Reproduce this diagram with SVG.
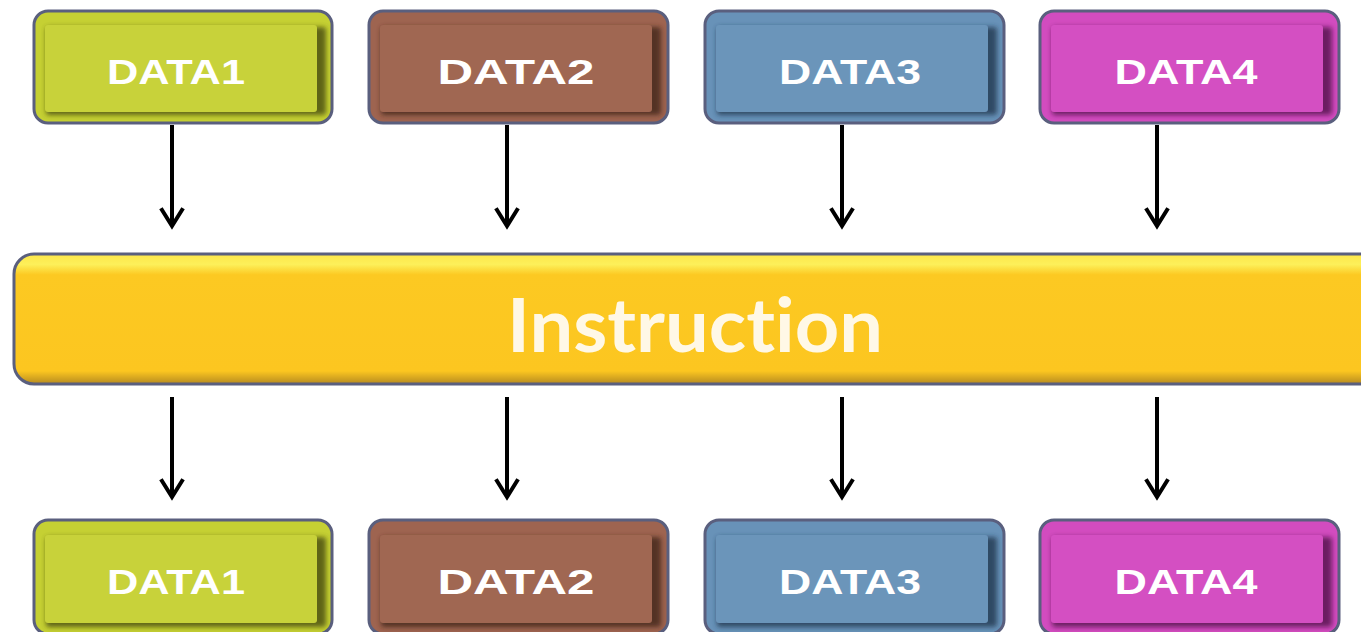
<svg xmlns="http://www.w3.org/2000/svg" width="1361" height="632" viewBox="0 0 1361 632">
  <style>
    .frame { stroke: #5a5f7e; stroke-width: 3; }
    .label { font-family: "Liberation Sans", Arial, sans-serif; font-weight: bold; font-size: 35px; fill: #ffffff; text-anchor: middle; }
    .title { font-family: Lato, "Open Sans", sans-serif; font-weight: bold; font-size: 74px; fill: #fff8e6; text-anchor: middle; font-variant-ligatures: none; font-feature-settings: "liga" 0; }
    .wire { stroke: #000000; stroke-width: 4; fill: none; }
    .tip { stroke: #000000; stroke-width: 4; fill: none; stroke-linecap: square; }
  </style>
  <defs>
    <filter id="soft" x="-10%" y="-20%" width="120%" height="140%">
      <feGaussianBlur stdDeviation="2.5"/>
    </filter>
    <linearGradient id="barShade" x1="0" y1="0" x2="0" y2="1">
      <stop offset="0" stop-color="#fde64a"/>
      <stop offset="0.08" stop-color="#fdf05a"/>
      <stop offset="0.16" stop-color="#fcc922"/>
      <stop offset="0.9" stop-color="#fcc620"/>
      <stop offset="1" stop-color="#b58a20"/>
    </linearGradient>
  </defs>

  <!-- top row -->
  <g id="data1-top">
    <rect x="34" y="11" width="298" height="112" rx="14" fill="#c5d033" class="frame"/>
    <rect x="46" y="27" width="280" height="88" rx="3" fill="#3e4010" opacity="0.75" filter="url(#soft)"/>
    <rect x="45" y="25" width="272" height="87" rx="3" fill="#c8d23a"/>
    <text x="176" y="84" class="label" textLength="138" lengthAdjust="spacingAndGlyphs">DATA1</text>
  </g>
  <g id="data2-top">
    <rect x="369" y="11" width="299" height="112" rx="14" fill="#9e6450" class="frame"/>
    <rect x="381" y="27" width="280" height="88" rx="3" fill="#3a2018" opacity="0.75" filter="url(#soft)"/>
    <rect x="380" y="25" width="272" height="87" rx="3" fill="#a06752"/>
    <text x="516" y="84" class="label" textLength="157" lengthAdjust="spacingAndGlyphs">DATA2</text>
  </g>
  <g id="data3-top">
    <rect x="705" y="11" width="299" height="112" rx="14" fill="#6892b8" class="frame"/>
    <rect x="717" y="27" width="280" height="88" rx="3" fill="#1e3048" opacity="0.75" filter="url(#soft)"/>
    <rect x="716" y="25" width="272" height="87" rx="3" fill="#6b95ba"/>
    <text x="850" y="84" class="label" textLength="142" lengthAdjust="spacingAndGlyphs">DATA3</text>
  </g>
  <g id="data4-top">
    <rect x="1040" y="11" width="299" height="112" rx="14" fill="#d24cbf" class="frame"/>
    <rect x="1052" y="27" width="280" height="88" rx="3" fill="#4a1042" opacity="0.75" filter="url(#soft)"/>
    <rect x="1051" y="25" width="272" height="87" rx="3" fill="#d44fc2"/>
    <text x="1186" y="84" class="label" textLength="143" lengthAdjust="spacingAndGlyphs">DATA4</text>
  </g>

  <!-- instruction bar -->
  <g id="instruction">
    <rect x="14" y="254" width="1380" height="130" rx="20" fill="url(#barShade)" class="frame"/>
    <text x="695" y="352" class="title" textLength="376" lengthAdjust="spacingAndGlyphs">Instruction</text>
  </g>

  <!-- bottom row -->
  <g id="data1-bottom">
    <rect x="34" y="520" width="298" height="114" rx="14" fill="#c5d033" class="frame"/>
    <rect x="46" y="537" width="280" height="90" rx="3" fill="#3e4010" opacity="0.75" filter="url(#soft)"/>
    <rect x="45" y="535" width="272" height="88" rx="3" fill="#c8d23a"/>
    <text x="176" y="594" class="label" textLength="138" lengthAdjust="spacingAndGlyphs">DATA1</text>
  </g>
  <g id="data2-bottom">
    <rect x="369" y="520" width="299" height="114" rx="14" fill="#9e6450" class="frame"/>
    <rect x="381" y="537" width="280" height="90" rx="3" fill="#3a2018" opacity="0.75" filter="url(#soft)"/>
    <rect x="380" y="535" width="272" height="88" rx="3" fill="#a06752"/>
    <text x="516" y="594" class="label" textLength="157" lengthAdjust="spacingAndGlyphs">DATA2</text>
  </g>
  <g id="data3-bottom">
    <rect x="705" y="520" width="299" height="114" rx="14" fill="#6892b8" class="frame"/>
    <rect x="717" y="537" width="280" height="90" rx="3" fill="#1e3048" opacity="0.75" filter="url(#soft)"/>
    <rect x="716" y="535" width="272" height="88" rx="3" fill="#6b95ba"/>
    <text x="850" y="594" class="label" textLength="142" lengthAdjust="spacingAndGlyphs">DATA3</text>
  </g>
  <g id="data4-bottom">
    <rect x="1040" y="520" width="299" height="114" rx="14" fill="#d24cbf" class="frame"/>
    <rect x="1052" y="537" width="280" height="90" rx="3" fill="#4a1042" opacity="0.75" filter="url(#soft)"/>
    <rect x="1051" y="535" width="272" height="88" rx="3" fill="#d44fc2"/>
    <text x="1186" y="594" class="label" textLength="143" lengthAdjust="spacingAndGlyphs">DATA4</text>
  </g>

  <!-- connectors: shaft plus open chevron head -->
  <g id="connectors">
    <path class="wire" d="M172 125 V226"/>
    <path class="tip" d="M162 210 L172 226 L182 210"/>
    <path class="wire" d="M507 125 V226"/>
    <path class="tip" d="M497 210 L507 226 L517 210"/>
    <path class="wire" d="M842 125 V226"/>
    <path class="tip" d="M832 210 L842 226 L852 210"/>
    <path class="wire" d="M1157 125 V226"/>
    <path class="tip" d="M1147 210 L1157 226 L1167 210"/>

    <path class="wire" d="M172 397 V497"/>
    <path class="tip" d="M162 481 L172 497 L182 481"/>
    <path class="wire" d="M507 397 V497"/>
    <path class="tip" d="M497 481 L507 497 L517 481"/>
    <path class="wire" d="M842 397 V497"/>
    <path class="tip" d="M832 481 L842 497 L852 481"/>
    <path class="wire" d="M1157 397 V497"/>
    <path class="tip" d="M1147 481 L1157 497 L1167 481"/>
  </g>
</svg>
